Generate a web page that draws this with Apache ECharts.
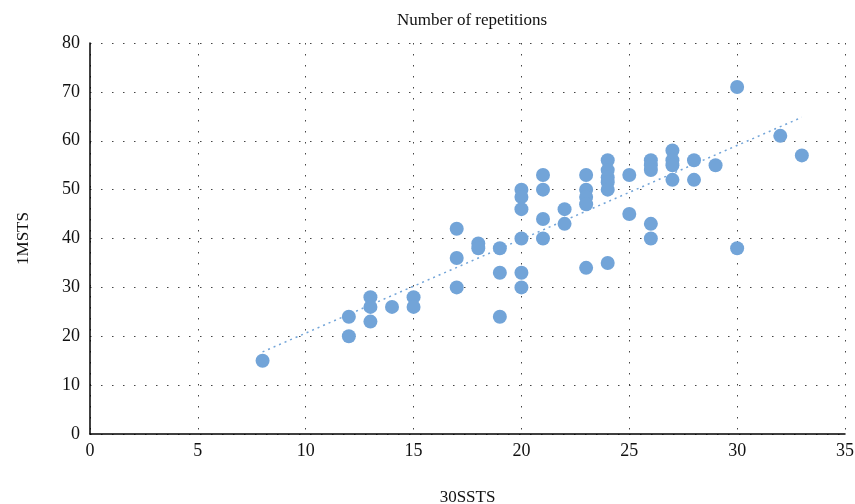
<!DOCTYPE html>
<html>
    <head>
        <meta charset="utf-8">
        <style>
            html, body { margin: 0; padding: 0; background: #fff; }
            #main { width: 855px; height: 504px; }
        </style>
    </head>
    <body>
        <div id="main"></div>
        <script src="https://cdn.jsdelivr.net/npm/echarts@6/dist/echarts.min.js"></script>
        <script>
            // 30SSTS (x) vs 1MSTS (y)
            var sstsValues = [
                8, 12, 12, 13, 13, 13, 14, 15, 15,
                17, 17, 17, 18, 18, 19, 19, 19,
                20, 20, 20, 20, 20, 20, 21, 21, 21, 21,
                22, 22, 23, 23, 23, 23, 23,
                24, 24, 24, 24, 24, 24, 25, 25,
                26, 26, 26, 26, 26, 27, 27, 27, 27,
                28, 28, 29, 30, 30, 32, 33
            ];
            var mstsValues = [
                15, 24, 20, 28, 26, 23, 26, 28, 26,
                42, 36, 30, 39, 38, 38, 33, 24,
                50, 48.5, 46, 40, 33, 30, 53, 50, 44, 40,
                46, 43, 53, 50, 48.5, 47, 34,
                56, 54, 52.5, 51.5, 50, 35, 53, 45,
                56, 55, 54, 43, 40, 58, 56, 55, 52,
                56, 52, 55, 71, 38, 61, 57
            ];
            // dotted trend line end points
            var trendX = [8, 33];
            var trendY = [16.8, 64.8];

            var points = sstsValues.map(function (x, i) {
                return [x, mstsValues[i]];
            });
            var trend = trendX.map(function (x, i) {
                return [x, trendY[i]];
            });

            var font = '"Liberation Serif", "DejaVu Serif", serif';
            var gridLine = {
                show: true,
                lineStyle: { color: '#444', width: 1, type: [1.5, 9.5] }
            };

            var chart = echarts.init(document.getElementById('main'));
            chart.setOption({
                animation: false,
                title: {
                    text: 'Number of repetitions',
                    left: 467,
                    top: 7,
                    textAlign: 'center',
                    textStyle: { fontFamily: font, fontSize: 17, fontWeight: 'normal', color: '#111' }
                },
                grid: { left: 90, right: 10, top: 43, bottom: 70, outerBoundsMode: 'none', containLabel: false },
                xAxis: {
                    type: 'value',
                    min: 0, max: 35, interval: 5,
                    name: '30SSTS',
                    nameLocation: 'middle',
                    nameGap: 55,
                    nameTextStyle: { fontFamily: font, fontSize: 17, color: '#111' },
                    axisLine: { show: true, lineStyle: { color: '#000', width: 1.5 } },
                    axisTick: { show: false },
                    axisLabel: { fontFamily: font, fontSize: 18, color: '#111', margin: 8 },
                    splitLine: gridLine
                },
                yAxis: {
                    type: 'value',
                    min: 0, max: 80, interval: 10,
                    name: '1MSTS',
                    nameLocation: 'middle',
                    nameGap: 58,
                    nameTextStyle: { fontFamily: font, fontSize: 17, color: '#111' },
                    axisLine: { show: true, lineStyle: { color: '#000', width: 1.5 } },
                    axisTick: { show: false },
                    axisLabel: { fontFamily: font, fontSize: 18, color: '#111', margin: 10 },
                    splitLine: gridLine
                },
                series: [{
                    type: 'scatter',
                    data: points,
                    symbolSize: 14,
                    itemStyle: { color: '#72a4d8', opacity: 1 },
                    z: 3
                }, {
                    type: 'line',
                    data: trend,
                    symbol: 'none',
                    lineStyle: { color: '#72a4d8', width: 1.5, type: [2, 4] },
                    z: 2
                }]
            });
        </script>
    </body>
</html>
